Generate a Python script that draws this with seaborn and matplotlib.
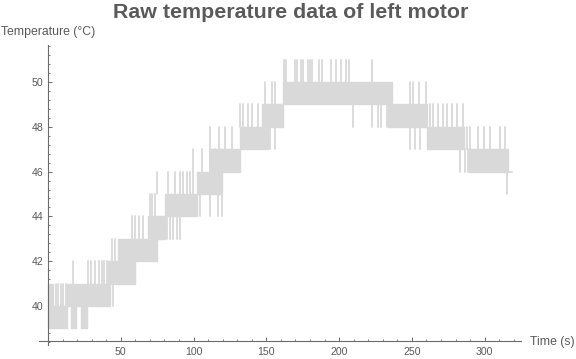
import matplotlib
matplotlib.use("Agg")
import matplotlib.pyplot as plt
import seaborn as sns
import pandas as pd
from matplotlib.ticker import MultipleLocator, FixedLocator

# ---- data ----
# dense toggling regions: the signal flips rapidly between low and high
block_start = [0, 3.4, 13, 15.8, 22.7, 41.2, 48, 68.7, 80.4, 102.3, 111.3, 131.9, 147, 161.4, 233.5, 260.3, 289]
block_end   = [3.4, 13, 42.6, 19.2, 26.8, 59.8, 74.9, 80.4, 102.3, 119.5, 131.9, 151.1, 161.4, 236.3, 260.3, 286, 316]
block_low   = [39, 39, 40, 39, 39, 41, 42, 43, 44, 45, 46, 47, 48, 49, 48, 47, 46]
block_high  = [41, 40, 41, 40, 40, 42, 43, 44, 45, 46, 47, 48, 49, 50, 49, 48, 47]

# isolated single-sample excursions: time, from, to
spike_time = [5.3, 7.1, 8.9, 10.5, 12.4,
              17.2, 27.5, 29.5, 32.3, 35, 37.1, 38.5, 40.5,
              44.6, 44, 46,
              57.7, 59.8, 62.5, 65.2,
              70, 71.4, 73.5,
              81.7, 83.8, 85.9, 88.6, 90.7,
              74.9, 82.4, 87.2, 90.7, 92.7, 95.5, 97.5, 99.6,
              104.4, 111.3, 116.8, 119.5,
              99.6, 105.8, 111.3, 114.7, 118.1, 121.6,
              111.3, 117.4, 121.6, 126.4,
              152.5, 155.9,
              131.9, 133.9, 137.4, 140.1, 144.2,
              149, 153.8, 155.9,
              162.1, 163.5, 169.7, 171, 173.8, 175.1, 178.6, 179.9, 181.3, 186.1,
              188.2, 194.4, 197.8, 201.2, 204.7, 206.7, 222.5,
              209.5, 222.5, 226.6, 228.7, 232.8,
              248.6, 250.7, 254.8, 259.6,
              248.6, 252.1, 255.5,
              262.4, 264.4, 267.9, 271.3, 274, 277.5, 280.9, 285,
              282.9, 286.3, 288.5,
              287.8, 289.8, 295.3, 299.6, 303.6, 310.4, 313.9,
              315.5]
spike_low = ([40] * 5 + [41] * 8 + [40, 42, 42] + [43] * 4 + [44] * 3 + [43] * 5 +
             [45] * 8 + [44] * 4 + [46] * 6 + [47] * 4 + [47] * 2 + [48] * 5 +
             [49] * 3 + [50] * 17 + [48] * 5 + [49] * 4 + [47] * 3 + [48] * 8 +
             [46] * 3 + [47] * 7 + [45])
spike_high = ([41] * 5 + [42] * 8 + [41, 43, 43] + [44] * 4 + [45] * 3 + [44] * 5 +
              [46] * 8 + [45] * 4 + [47] * 6 + [48] * 4 + [48] * 2 + [49] * 5 +
              [50] * 3 + [51] * 17 + [49] * 5 + [50] * 4 + [48] * 3 + [49] * 8 +
              [47] * 3 + [48] * 7 + [46])

tail_time = [316, 318.7]
tail_temp = [46, 46]

x_major = [50, 100, 150, 200, 250, 300]
y_major = [40, 42, 44, 46, 48, 50]

LINE = "#d9d9d9"
AXC = "#6b6b6b"
TXT = "#5a5a5a"

sns.set_style("white")
plt.rcParams["font.family"] = ["Liberation Sans", "DejaVu Sans"]

fig = plt.figure(figsize=(5.76, 3.59), dpi=100)
ax = fig.add_axes([39 / 576, 14 / 359, 482 / 576, 300 / 359])
ax.set_xlim(-6.2, 325)
ax.set_ylim(38.26, 51.65)

for s, e, lo, hi in zip(block_start, block_end, block_low, block_high):
    ax.fill_between([s, e], [lo, lo], [hi, hi], color=LINE, lw=1.0, edgecolor=LINE, zorder=2)

rows = []
for i, (t, lo, hi) in enumerate(zip(spike_time, spike_low, spike_high)):
    rows.append({"t": t, "temp": lo, "id": i})
    rows.append({"t": t, "temp": hi, "id": i})
spikes = pd.DataFrame(rows)
sns.lineplot(data=spikes, x="t", y="temp", units="id", estimator=None, sort=False,
             color=LINE, lw=1.3, ax=ax, zorder=2)
sns.lineplot(x=tail_time, y=tail_temp, color=LINE, lw=1.3, ax=ax, zorder=2)

ax.set_xlabel("")
ax.set_ylabel("")
for side in ["top", "right"]:
    ax.spines[side].set_visible(False)
ax.spines["left"].set_position(("data", 0))
ax.spines["bottom"].set_position(("data", 38.44))
for side in ["left", "bottom"]:
    ax.spines[side].set_color(AXC)
    ax.spines[side].set_linewidth(0.8)

ax.xaxis.set_major_locator(FixedLocator(x_major))
ax.xaxis.set_minor_locator(MultipleLocator(10))
ax.yaxis.set_major_locator(FixedLocator(y_major))
ax.yaxis.set_minor_locator(MultipleLocator(0.4))
ax.tick_params(which="major", direction="in", length=3, width=0.7, color=AXC,
               labelsize=7.6, labelcolor=TXT)
ax.tick_params(axis="x", which="major", pad=4.0)
ax.tick_params(axis="y", which="major", pad=3.5)
ax.tick_params(which="minor", direction="in", length=1.6, width=0.6, color=AXC)
ax.xaxis.set_ticks_position("bottom")
ax.yaxis.set_ticks_position("left")

fig.text(291 / 576, 1 - 18.5 / 359, "Raw temperature data of left motor", ha="center",
         va="baseline", fontsize=15.4, fontweight="bold", color=TXT)
fig.text(1 / 576, 1 - 32 / 359, "Temperature (°C)", ha="left", va="center",
         fontsize=8.8, color=TXT)
fig.text(530 / 576, 1 - 342 / 359, "Time (s)", ha="left", va="center",
         fontsize=8.8, color=TXT)

fig.savefig("out.png", dpi=100)
